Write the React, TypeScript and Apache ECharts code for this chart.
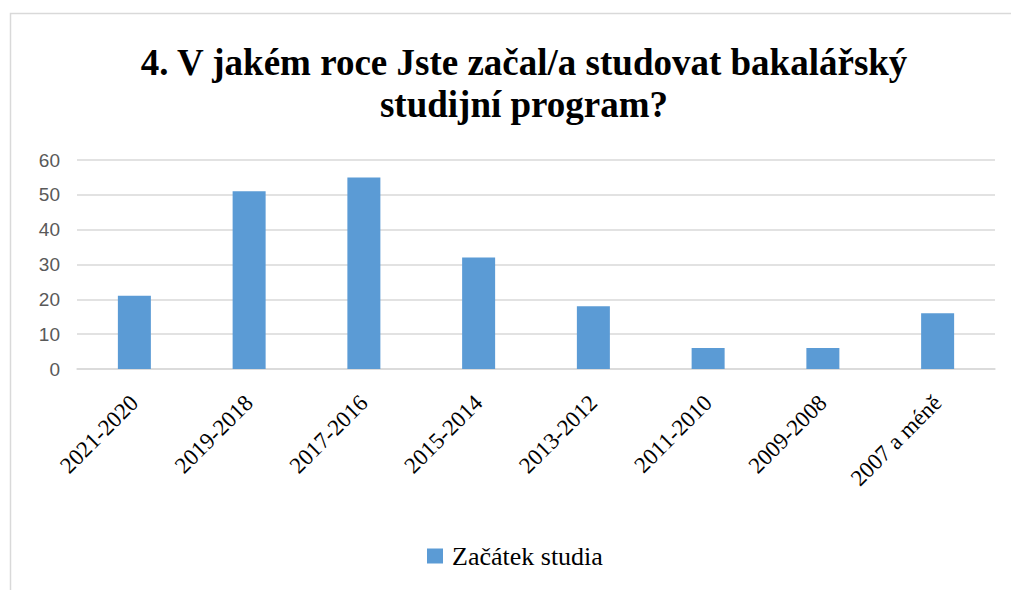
import React, { useEffect, useRef } from "react";
import * as echarts from "echarts";

const categories = ["2021-2020", "2019-2018", "2017-2016", "2015-2014", "2013-2012", "2011-2010", "2009-2008", "2007 a méně"];
const values = [21, 51, 55, 32, 18, 6, 6, 16];
const seriesName = "Začátek studia";
const titleText = "4. V jakém roce Jste začal/a studovat bakalářský\nstudijní program?";

const SERIF = "Liberation Serif";
const Y_LABEL_COLOR = "#595959";

const css = `
#chart-host svg text { font-family: "Liberation Serif", "Times New Roman", serif !important; }
#chart-host svg text[fill="${Y_LABEL_COLOR}"] { font-family: "Liberation Sans", Arial, sans-serif !important; }
`;

export default function App() {
  const ref = useRef<HTMLDivElement>(null);
  useEffect(() => {
    if (!ref.current) return;
    const chart = echarts.init(ref.current, null, { renderer: "svg" });
    chart.setOption({
      animation: false,
      title: {
        text: titleText,
        left: 519,
        top: 36,
        textAlign: "center",
        textStyle: {
          fontFamily: SERIF,
          fontWeight: "bold",
          fontSize: 37,
          lineHeight: 42,
          color: "#000000",
        },
      },
      graphic: [
        {
          type: "rect",
          shape: { x: 10.5, y: 13.5, width: 1100, height: 700 },
          style: { fill: "none", stroke: "#d9d9d9", lineWidth: 1.5 },
          silent: true,
        },
      ],
      legend: {
        left: 427,
        top: 543,
        padding: 0,
        itemWidth: 16,
        itemHeight: 15,
        itemGap: 10,
        icon: "rect",
        textStyle: { fontFamily: SERIF, fontSize: 26, color: "#000000", padding: [0, 0, 0, 4] },
        data: [seriesName],
      },
      grid: { left: 77, right: 16, top: 160, bottom: 221 },
      xAxis: {
        type: "category",
        data: categories,
        axisLine: { lineStyle: { color: "#d9d9d9", width: 1.5 } },
        axisTick: { show: false },
        axisLabel: {
          rotate: 45,
          interval: 0,
          margin: 30,
          fontFamily: SERIF,
          fontSize: 23,
          color: "#000000",
        },
      },
      yAxis: {
        type: "value",
        min: 0,
        max: 60,
        interval: 10,
        axisLine: { show: false },
        axisTick: { show: false },
        splitLine: { lineStyle: { color: "#d9d9d9", width: 1.5 } },
        axisLabel: { margin: 17, fontSize: 19, color: Y_LABEL_COLOR },
      },
      series: [
        {
          name: seriesName,
          type: "bar",
          data: values,
          barWidth: 33,
          itemStyle: { color: "#5b9bd5" },
        },
      ],
    });
    return () => chart.dispose();
  }, []);
  return (
    <>
      <style>{css}</style>
      <div
        id="chart-host"
        ref={ref}
        style={{ position: "fixed", left: 0, top: 0, width: 1011, height: 590, background: "#ffffff" }}
      />
    </>
  );
}
